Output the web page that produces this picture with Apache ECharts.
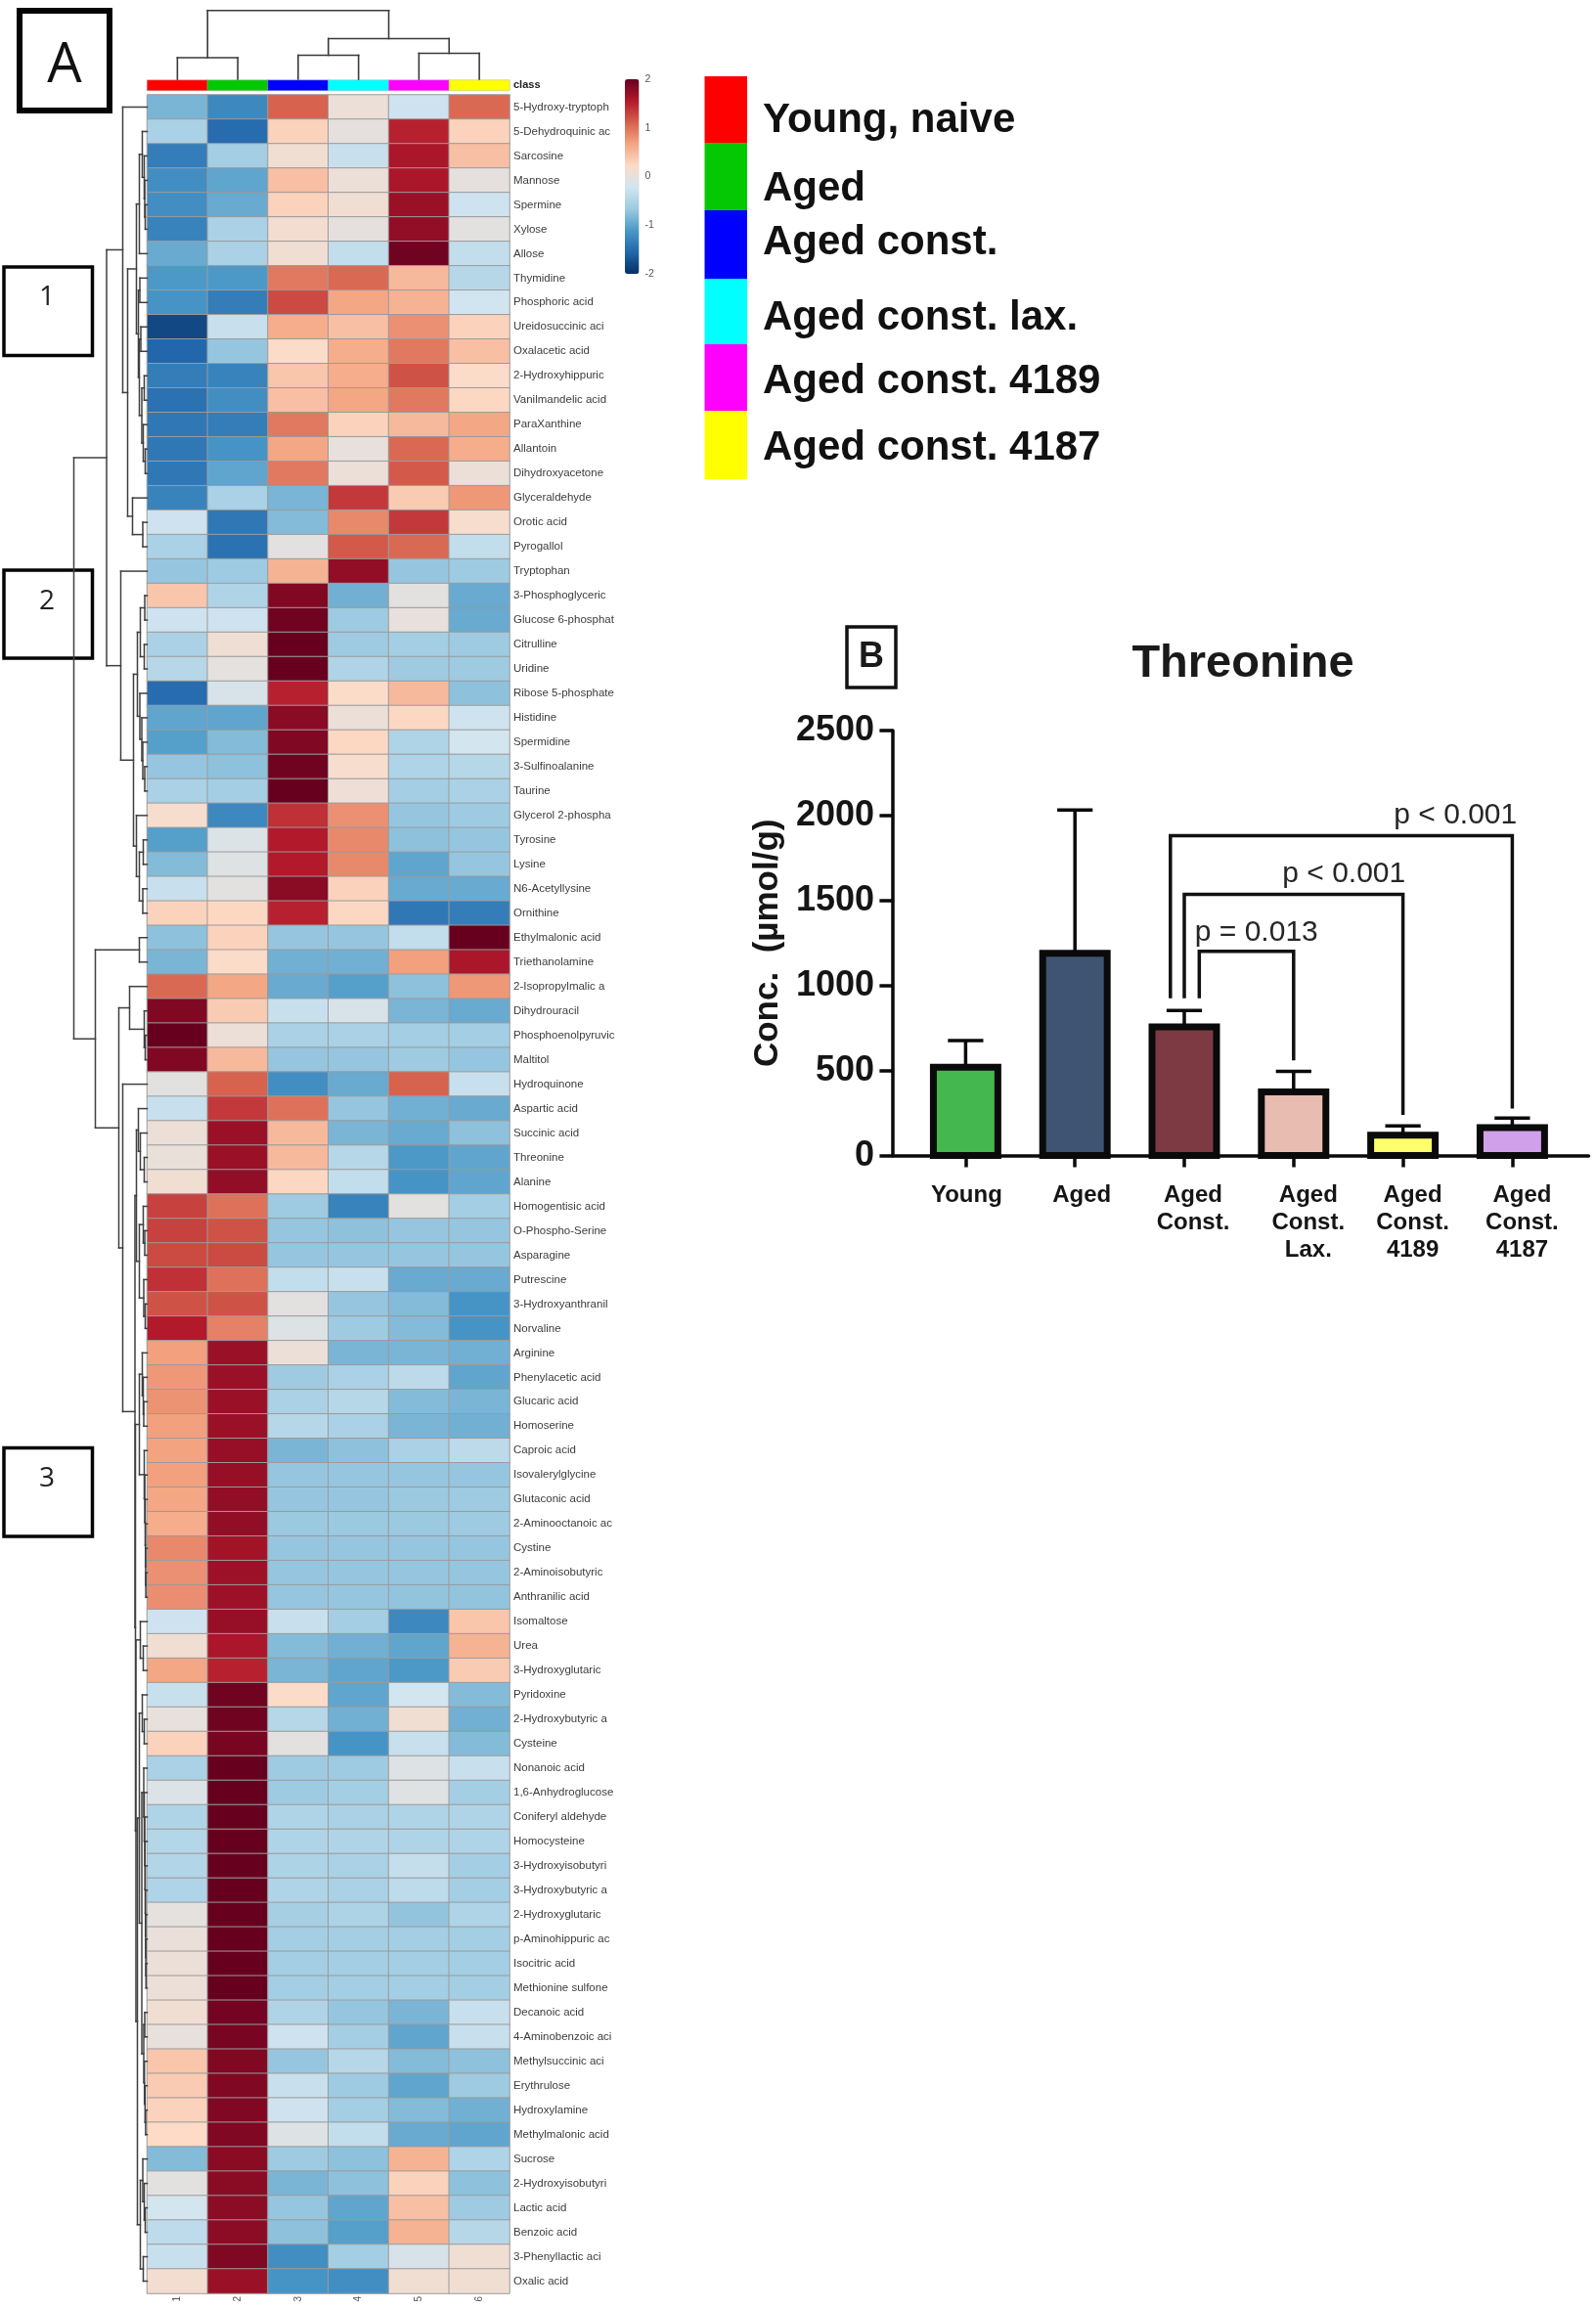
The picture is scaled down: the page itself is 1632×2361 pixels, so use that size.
<!DOCTYPE html>
<html><head><meta charset="utf-8">
<style>html,body{margin:0;padding:0;background:#fff}#c{width:1632px;height:2361px}</style>
<script src="https://cdn.jsdelivr.net/npm/echarts@6/dist/echarts.min.js"></script>
</head><body><div id="c"></div>
<script>
const groupNames = ['Young, naive','Aged','Aged const.','Aged const. lax.','Aged const. 4189','Aged const. 4187'];
const groupColors = ['#ff0000','#05c805','#0000ff','#00ffff','#ff00ff','#ffff00'];
const columnLabels = ['1','2','3','4','5','6'];
const rowLabels = ['5-Hydroxy-tryptoph','5-Dehydroquinic ac','Sarcosine','Mannose','Spermine','Xylose','Allose','Thymidine','Phosphoric acid','Ureidosuccinic aci','Oxalacetic acid','2-Hydroxyhippuric','Vanilmandelic acid','ParaXanthine','Allantoin','Dihydroxyacetone','Glyceraldehyde','Orotic acid','Pyrogallol','Tryptophan','3-Phosphoglyceric','Glucose 6-phosphat','Citrulline','Uridine','Ribose 5-phosphate','Histidine','Spermidine','3-Sulfinoalanine','Taurine','Glycerol 2-phospha','Tyrosine','Lysine','N6-Acetyllysine','Ornithine','Ethylmalonic acid','Triethanolamine','2-Isopropylmalic a','Dihydrouracil','Phosphoenolpyruvic','Maltitol','Hydroquinone','Aspartic acid','Succinic acid','Threonine','Alanine','Homogentisic acid','O-Phospho-Serine','Asparagine','Putrescine','3-Hydroxyanthranil','Norvaline','Arginine','Phenylacetic acid','Glucaric acid','Homoserine','Caproic acid','Isovalerylglycine','Glutaconic acid','2-Aminooctanoic ac','Cystine','2-Aminoisobutyric','Anthranilic acid','Isomaltose','Urea','3-Hydroxyglutaric','Pyridoxine','2-Hydroxybutyric a','Cysteine','Nonanoic acid','1,6-Anhydroglucose','Coniferyl aldehyde','Homocysteine','3-Hydroxyisobutyri','3-Hydroxybutyric a','2-Hydroxyglutaric','p-Aminohippuric ac','Isocitric acid','Methionine sulfone','Decanoic acid','4-Aminobenzoic aci','Methylsuccinic aci','Erythrulose','Hydroxylamine','Methylmalonic acid','Sucrose','2-Hydroxyisobutyri','Lactic acid','Benzoic acid','3-Phenyllactic aci','Oxalic acid'];
const clusterOneZ = [
[-.85,-1.25,1.1,.05,-.25,1.05],[-.55,-1.5,.3,-.02,1.5,.3],[-1.35,-.6,.1,-.3,1.6,.45],[-1.2,-1,.45,.05,1.6,-.02],[-1.2,-.95,.3,.1,1.7,-.25],[-1.3,-.55,.12,-.02,1.75,-.05],[-.95,-.55,.1,-.35,1.95,-.35],[-1.1,-1.1,.95,1.05,.5,-.45],[-1.15,-1.35,1.25,.65,.55,-.22],[-1.8,-.3,.6,.45,.8,.3],[-1.55,-.7,.2,.6,.95,.45],[-1.35,-1.3,.4,.6,1.2,.2],[-1.45,-1.2,.45,.65,.95,.25],[-1.4,-1.35,.95,.3,.5,.65],[-1.4,-1.15,.65,0,1.05,.6],[-1.4,-1,.95,.05,1.15,.05],[-1.3,-.55,-.85,1.35,.35,.75],[-.25,-1.4,-.8,.85,1.35,.15],[-.55,-1.45,-.05,1.15,1.05,-.35],[-.7,-.65,.55,1.75,-.7,-.65]];
const clusterTwoZ = [
[.4,-.5,1.85,-.9,-.05,-.95],[-.25,-.25,1.95,-.65,0,-.95],[-.55,.08,2,-.65,-.6,-.65],[-.45,-.03,2,-.5,-.65,-.65],[-1.5,-.15,1.5,.2,.5,-.75],[-1,-1,1.8,.05,.25,-.25],[-1.05,-.8,1.85,.25,-.5,-.2],[-.7,-.75,1.95,.15,-.5,-.45],[-.55,-.6,2,.07,-.6,-.55],[.15,-1.25,1.4,.8,-.7,-.65],[-1.05,-.12,1.55,.85,-.75,-.7],[-.8,-.08,1.55,.85,-1,-.7],[-.3,-.05,1.8,.3,-.95,-.95],[.3,.25,1.5,.25,-1.4,-1.35]];
const clusterThreeZ = [
[-.75,.3,-.7,-.7,-.35,2],[-.85,.2,-.9,-.9,.7,1.6],[1.05,.65,-.95,-1.05,-.75,.75],[1.85,.35,-.3,-.15,-.85,-.95],[2,.05,-.55,-.55,-.6,-.6],[1.85,.5,-.7,-.7,-.65,-.7],[-.05,1.1,-1.2,-.95,1.1,-.3],[-.3,1.35,1,-.7,-.9,-.95],[.05,1.7,.5,-.85,-.95,-.75],[.02,1.7,.5,-.45,-1.1,-1],[.1,1.75,.25,-.35,-1.15,-1],[1.3,1,-.65,-1.3,-.05,-.6],[1.3,1.2,-.7,-.75,-.7,-.7],[1.25,1.25,-.7,-.7,-.7,-.7],[1.4,1,-.35,-.3,-.95,-.95],[1.2,1.2,-.05,-.7,-.8,-1.15],[1.55,.9,-.1,-.65,-.8,-1.15]];
const clusterFourZ = [
[.7,1.7,.05,-.85,-.85,-.9],[.75,1.7,-.65,-.55,-.4,-1],[.78,1.7,-.55,-.45,-.8,-.85],[.7,1.7,-.45,-.55,-.85,-.9],[.68,1.72,-.85,-.75,-.55,-.4],[.7,1.72,-.7,-.7,-.7,-.7],[.65,1.75,-.7,-.7,-.68,-.65],[.6,1.75,-.68,-.68,-.68,-.65],[.85,1.65,-.7,-.7,-.7,-.7],[.8,1.68,-.7,-.7,-.7,-.7],[.82,1.68,-.7,-.7,-.72,-.72],[-.25,1.72,-.3,-.6,-1.25,.4],[.1,1.6,-.8,-.9,-1,.55],[.65,1.5,-.85,-1,-1.1,.35],[-.3,1.95,.2,-1,-.2,-.8],[0,1.95,-.45,-.9,.1,-.9],[.3,1.9,-.05,-1.15,-.3,-.8]];
const clusterFiveZ = [
[-.55,2,-.65,-.65,-.1,-.3],[-.12,2,-.65,-.6,-.08,-.6],[-.5,2,-.5,-.55,-.5,-.5],[-.47,2,-.5,-.5,-.5,-.5],[-.48,2,-.52,-.55,-.33,-.6],[-.5,2,-.5,-.55,-.38,-.6],[-.03,2,-.58,-.52,-.72,-.5],[.03,2,-.6,-.6,-.6,-.6],[.04,2,-.6,-.6,-.6,-.6],[.05,2,-.6,-.6,-.6,-.6],[.1,1.92,-.5,-.7,-.85,-.3],[0,1.9,-.25,-.6,-1,-.3],[.4,1.85,-.7,-.45,-.8,-.75],[.35,1.85,-.3,-.65,-1,-.65],[.3,1.85,-.25,-.6,-.8,-.9],[.22,1.85,-.1,-.35,-.95,-1],[-.8,1.8,-.65,-.75,.55,-.5],[-.05,1.8,-.85,-.75,.3,-.75],[-.2,1.78,-.7,-1,.45,-.65],[-.38,1.78,-.75,-1.05,.55,-.45],[-.3,1.85,-1.2,-.6,-.15,.08],[.12,1.7,-1.15,-1.2,.1,.1]];
const heatRamp = ['#053061','#2166AC','#4A98C7','#9CCAE1','#D1E5F0','#FDDBC7','#F4A582','#D6604D','#B2182B','#67001F'];
// dendrograms: [merge height, child, child]; a number is a leaf index
const colTree = [70.3,[22,0,1],[41.5,[24.5,2,3],[26.5,4,5]]];
const rowTree = [75,
 [41.5,
  [25,0,[20,
    [11,[8,[5,1,[3,2,[2.5,3,[2,4,5]]]],6],[9,[7.5,7,8],[8,[6.5,9,10],[5.5,[3,11,12],[4,13,[2,14,15]]]]]],
    [15,16,[4.5,17,18]]]],
  [27,19,[14,
    [10,[7,[2.5,20,21],[3,22,23]],[7.5,24,[5.5,25,[4.5,26,[2.5,27,28]]]]],
    [11,29,[8,[4,30,31],[4.5,32,33]]]]]],
 [53,
  [8,34,35],
  [29,
   [18,36,[3,37,[2,38,39]]],
   [25,40,[12.5,
     [11,[9,41,[7,42,[3,43,44]]],[8,[4,45,[2.5,46,47]],[3.5,48,[2,49,50]]]],
     [12,
      [8,[5,51,[4,52,[3.5,53,54]]],[3,55,[2.5,56,[2,57,[1.8,58,[1.6,59,[1.4,60,61]]]]]]],
      [11.5,[7,62,[4,63,64]],
       [10,[8,[5,65,[3,66,67]],
         [5.5,[3.5,68,[3,69,[2.5,70,[2.2,71,[2,72,[1.8,73,[1.6,74,[1.4,75,[1.2,76,77]]]]]]]]],[3.5,[2.5,78,79],[2.8,80,[2.2,81,[1.6,82,83]]]]]],
        [7,[4.5,84,[3,85,[2,86,87]]],[4,88,89]]]]]]]]]];
// panel B
const barNames = ['Young','Aged','Aged\nConst.','Aged\nConst.\nLax.','Aged\nConst.\n4189','Aged\nConst.\n4187'];
const barMeans = [520,1190,757,375,120,165];
const barTops = [676,2032,853,496,175,221];
const barFills = ['#45b74f','#3f5373','#7d3a42','#e9bcb2','#ffff6b','#d1a0ea'];
const yTickMax = 2500;
const bracketTo = [3,4,5];
const bracketFromOffset = [.137,0,-.127];
const bracketY = [1202,1536,1881];
const bracketFromEnd = [925,925,925];
const bracketToEnd = [560,239,277];
const bracketText = ['p = 0.013','p < 0.001','p < 0.001'];
const bracketTextPos = [[2.66,1308],[3.46,1656],[4.48,2001]];

const cellZ = [...clusterOneZ,...clusterTwoZ,...clusterThreeZ,...clusterFourZ,...clusterFiveZ];
const heatData = [];
cellZ.forEach((r,i)=>r.forEach((z,j)=>heatData.push([j,i,z])));

function treeLinks(node,out){
  if(typeof node==='number') return {p:node,h:0};
  const a=treeLinks(node[1],out), b=treeLinks(node[2],out), h=node[0];
  out.push([a.h,a.p,h,a.p],[h,a.p,h,b.p],[b.h,b.p,h,b.p]);
  return {p:(a.p+b.p)/2,h};
}
const rowLinks=[]; treeLinks(rowTree,rowLinks);
const colLinks=[]; treeLinks(colTree,colLinks);
const colSegs=colLinks.map(l=>[l[1],l[0],l[3],l[2]]);

function segRender(color,width){
  return (p,api)=>{
    const a=api.coord([api.value(0),api.value(1)]), b=api.coord([api.value(2),api.value(3)]);
    return {type:'line',shape:{x1:a[0],y1:a[1],x2:b[0],y2:b[1]},style:{stroke:color,lineWidth:width,lineCap:'square'}};
  };
}
const hx=150.5, hw=370.5, hy=97, hh=2248;
const barLeft=931.5, barBand=111.8, barTop=747, barH=434.6;
const labelOffsets=[1,7,9,15,10,10];
const rich={};
barNames.forEach((n,i)=>{rich['r'+i]={padding:[0,0,0,2*labelOffsets[i]],fontFamily:'"Liberation Sans Narrow","Liberation Sans",Arial',fontWeight:'bold',fontSize:24,lineHeight:28,color:'#151515'};});

const option={
 animation:false,
 backgroundColor:'#fff',
 title:{text:'Threonine',left:1266,top:651,textAlign:'center',textStyle:{fontFamily:'"Liberation Sans",Arial',fontWeight:'bold',fontSize:47,color:'#1a1a1a',lineHeight:47}},
 grid:[
  {left:hx,top:hy,width:hw,height:hh},
  {left:hx,top:82,width:hw,height:10.5},
  {left:hx,top:10,width:hw,height:71},
  {left:70.5,top:hy,width:80,height:hh},
  {left:913,top:barTop,width:711.5,height:barH},
  {left:barLeft,top:barTop,width:barBand*6,height:barH},
  {left:639,top:81,width:14.5,height:199}
 ],
 xAxis:[
  {gridIndex:0,type:'category',data:columnLabels,position:'bottom',axisLine:{show:false},axisTick:{show:false},axisLabel:{rotate:90,fontSize:10,color:'#555',margin:3,fontFamily:'"Liberation Sans"'},splitLine:{show:false}},
  {gridIndex:1,type:'category',data:columnLabels,show:false},
  {gridIndex:2,type:'value',min:-.5,max:5.5,show:false},
  {gridIndex:3,type:'value',min:0,max:80,inverse:true,show:false},
  {gridIndex:4,type:'value',min:0,max:1,axisLine:{show:true,lineStyle:{color:'#0a0a0a',width:3.5}},axisTick:{show:false},axisLabel:{show:false},splitLine:{show:false}},
  {gridIndex:5,type:'category',data:barNames,axisLine:{show:false},axisTick:{show:true,alignWithLabel:true,length:12,lineStyle:{color:'#0a0a0a',width:3.5}},
    axisLabel:{interval:0,margin:27,align:'center',formatter:(v,i)=>v.split('\n').map(l=>`{r${i}|${l}}`).join('\n'),rich}},
  {gridIndex:6,type:'value',min:0,max:1,show:false}
 ],
 yAxis:[
  {gridIndex:0,type:'category',data:rowLabels,inverse:true,position:'right',axisLine:{show:false},axisTick:{show:false},axisLabel:{interval:0,fontSize:11.5,color:'#3c3c3c',margin:4,fontFamily:'"Liberation Sans"'},splitLine:{show:false}},
  {gridIndex:1,type:'category',data:['class'],position:'right',axisLine:{show:false},axisTick:{show:false},axisLabel:{fontSize:11,fontWeight:'bold',color:'#222',margin:4,fontFamily:'"Liberation Sans"'}},
  {gridIndex:2,type:'value',min:0,max:71,show:false},
  {gridIndex:3,type:'value',min:-.5,max:89.5,inverse:true,show:false},
  {gridIndex:4,type:'value',min:0,max:yTickMax,interval:500,name:'Conc.  (\u00b5mol/g)',nameLocation:'middle',nameGap:110,nameRotate:90,
    nameTextStyle:{fontFamily:'"Liberation Sans"',fontWeight:'bold',fontSize:35,color:'#151515'},
    axisLine:{show:true,lineStyle:{color:'#0a0a0a',width:3.5}},axisTick:{show:true,length:13.6,lineStyle:{color:'#0a0a0a',width:3.5}},
    axisLabel:{fontFamily:'"Liberation Sans"',fontWeight:'bold',fontSize:36,color:'#151515',margin:19,formatter:v=>String(v)},splitLine:{show:false}},
  {gridIndex:5,type:'value',min:0,max:yTickMax,show:false},
  {gridIndex:6,type:'value',min:-2,max:2,interval:1,position:'right',axisLine:{show:false},axisTick:{show:false},axisLabel:{fontSize:10.5,color:'#555',margin:6,fontFamily:'"Liberation Sans"'},splitLine:{show:false}}
 ],
 visualMap:[{type:'continuous',seriesIndex:0,min:-2,max:2,left:639,top:81,itemWidth:14.5,itemHeight:199,calculable:false,realtime:false,text:['',''],padding:0,inRange:{color:heatRamp},showLabel:false,textStyle:{fontSize:1,color:'#fff'},hoverLink:false}],
 series:[
  {type:'heatmap',xAxisIndex:0,yAxisIndex:0,data:heatData,itemStyle:{borderColor:'#9b9b9b',borderWidth:1},silent:true,progressive:0},
  {type:'heatmap',xAxisIndex:1,yAxisIndex:1,data:groupColors.map((c,i)=>({value:[i,0,i],itemStyle:{color:c}})),itemStyle:{borderColor:'#b0b0b0',borderWidth:.5},silent:true},
  {type:'custom',xAxisIndex:2,yAxisIndex:2,data:colSegs,encode:{x:[0,2],y:[1,3]},renderItem:segRender('#3a3a3a',1.6),silent:true,clip:false},
  {type:'custom',xAxisIndex:3,yAxisIndex:3,data:rowLinks,encode:{x:[0,2],y:[1,3]},renderItem:segRender('#3f3f3f',1.5),silent:true,clip:false},
  {type:'bar',xAxisIndex:5,yAxisIndex:5,barWidth:68,silent:true,z:3,data:barMeans.map((v,i)=>({value:v,itemStyle:{color:barFills[i]}}))},
  {type:'custom',xAxisIndex:5,yAxisIndex:5,silent:true,z:5,clip:false,data:barMeans.map((v,i)=>[i,v]),encode:{x:0,y:1},
    renderItem:(p,api)=>{
      const a=api.coord([api.value(0),api.value(1)]), z=api.coord([api.value(0),0]);
      const w=api.size([1,0])[0]*.295;
      return {type:'rect',shape:{x:a[0]-w,y:a[1],width:2*w,height:z[1]-a[1]},style:{fill:'none',stroke:'#0a0a0a',lineWidth:7}};
    }},
  {type:'custom',xAxisIndex:5,yAxisIndex:5,silent:true,z:2,clip:false,data:barMeans.map((v,i)=>[i,v,barTops[i]]),encode:{x:0,y:[1,2]},
    renderItem:(p,api)=>{
      const a=api.coord([api.value(0),api.value(1)]), b=api.coord([api.value(0),api.value(2)]);
      const cap=api.size([1,0])[0]*.162;
      const s={stroke:'#0a0a0a',lineWidth:3.5};
      return {type:'group',children:[
        {type:'line',shape:{x1:a[0],y1:a[1],x2:b[0],y2:b[1]},style:s},
        {type:'line',shape:{x1:b[0]-cap,y1:b[1],x2:b[0]+cap,y2:b[1]},style:s}]};
    }},
  {type:'custom',xAxisIndex:5,yAxisIndex:5,silent:true,z:4,clip:false,data:bracketTo.map((t,i)=>[t,bracketY[i]]),encode:{x:0,y:1},
    renderItem:(p,api)=>{
      const i=p.dataIndex, band=api.size([1,0])[0];
      const x0=api.coord([2,0])[0]+bracketFromOffset[i]*band, x1=api.coord([bracketTo[i],0])[0];
      const yTop=api.coord([2,bracketY[i]])[1], yA=api.coord([2,bracketFromEnd[i]])[1], yB=api.coord([2,bracketToEnd[i]])[1];
      const tp=bracketTextPos[i];
      const tx=api.coord([2,tp[1]]);
      return {type:'group',children:[
        {type:'polyline',shape:{points:[[x0,yA],[x0,yTop],[x1,yTop],[x1,yB]]},style:{stroke:'#111',lineWidth:3.5,fill:'none'}},
        {type:'text',x:api.coord([2,0])[0]+(tp[0]-2)*band,y:tx[1],style:{text:bracketText[i],fill:'#262626',font:'30px "Liberation Sans"',textAlign:'center',textVerticalAlign:'middle'}}]};
    }}
 ],
 graphic:[
  {type:'rect',shape:{x:20,y:11,width:92,height:102},style:{fill:'none',stroke:'#050505',lineWidth:6}},
  {type:'text',x:66,y:68,style:{text:'A',font:'56px "Open Sans"',fill:'#111',textAlign:'center',textVerticalAlign:'middle'}},
  {type:'rect',shape:{x:4,y:273,width:90.5,height:90.5},style:{fill:'none',stroke:'#050505',lineWidth:3.5}},
  {type:'text',x:48,y:304,style:{text:'1',font:'28px "Open Sans"',fill:'#222',textAlign:'center',textVerticalAlign:'middle'}},
  {type:'rect',shape:{x:4,y:583,width:90.5,height:90},style:{fill:'none',stroke:'#050505',lineWidth:3.5}},
  {type:'text',x:48,y:615,style:{text:'2',font:'28px "Open Sans"',fill:'#222',textAlign:'center',textVerticalAlign:'middle'}},
  {type:'rect',shape:{x:4,y:1480.5,width:90.5,height:90.5},style:{fill:'none',stroke:'#050505',lineWidth:3.5}},
  {type:'text',x:48,y:1512,style:{text:'3',font:'28px "Open Sans"',fill:'#222',textAlign:'center',textVerticalAlign:'middle'}},
  {type:'rect',shape:{x:866,y:641,width:50,height:62},style:{fill:'none',stroke:'#111',lineWidth:3.5}},
  {type:'text',x:891,y:672,style:{text:'B',font:'bold 36px "Liberation Sans"',fill:'#1a1a1a',textAlign:'center',textVerticalAlign:'middle'}},
  ...groupNames.map((n,i)=>({type:'rect',shape:{x:720.5,y:[78,146,215,285,352,420][i],width:43.5,height:[68,69,70,67,68,70][i]},style:{fill:groupColors[i]}})),
  ...groupNames.map((n,i)=>({type:'text',x:780,y:[123,193,248,325,390,458][i],style:{text:n,font:'bold 42px "Liberation Sans"',fill:'#111',textAlign:'left',textVerticalAlign:'middle'}}))
 ]
};
const chart=echarts.init(document.getElementById('c'));
chart.setOption(option);
</script></body></html>
